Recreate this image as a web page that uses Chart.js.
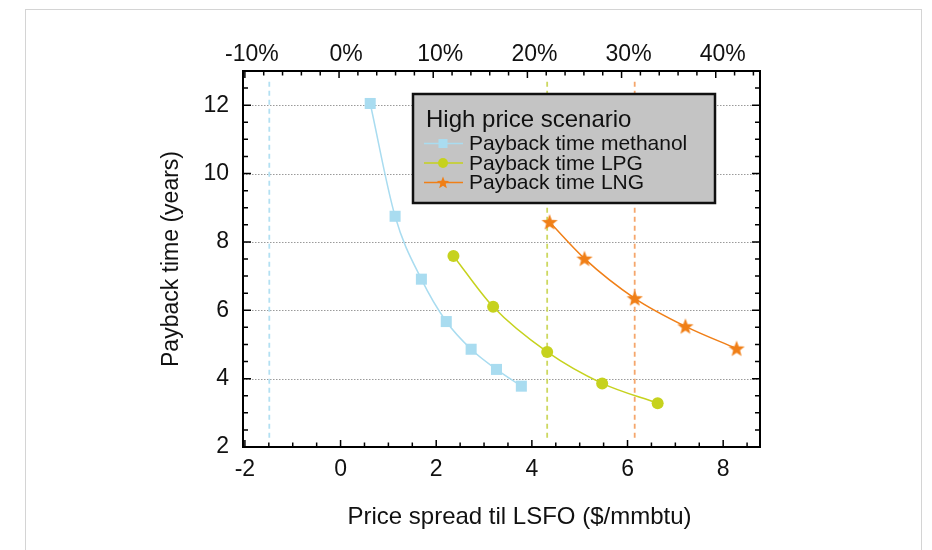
<!DOCTYPE html>
<html>
<head>
<meta charset="utf-8">
<script src="https://cdn.jsdelivr.net/npm/chart.js@4/dist/chart.umd.min.js"></script>
<style>
  body { margin: 0; background: #fff; }
  #wrap { position: relative; width: 932px; height: 550px; overflow: hidden; }
  #frame { position: absolute; left: 25px; top: 9px; width: 897px; height: 600px; border: 1.5px solid #d4d4d4; box-sizing: border-box; }
  canvas { position: absolute; left: 0; top: 0; }
</style>
</head>
<body>
<div id="wrap">
  <div id="frame"></div>
  <canvas id="chart" width="932" height="550"></canvas>
</div>
<script>
// values
const methanolX = [0.62, 1.14, 1.69, 2.21, 2.73, 3.26, 3.78];
const methanolY = [12.05, 8.75, 6.91, 5.67, 4.86, 4.27, 3.78];
const lpgX = [2.36, 3.19, 4.32, 5.47, 6.63];
const lpgY = [7.59, 6.10, 4.78, 3.86, 3.28];
const lngX = [4.37, 5.10, 6.15, 7.21, 8.28];
const lngY = [8.58, 7.51, 6.35, 5.53, 4.88];

// break-even lines (x) and their vertical extent (y)
const breakEvenX = [-1.49, 4.32, 6.15];
const breakEvenSpan = [2.27, 12.8];

const xTicks = [-2, 0, 2, 4, 6, 8];
const pctTicks = [-10, 0, 10, 20, 30, 40];
const yTicks = [2, 4, 6, 8, 10, 12];
const gridY = [4, 6, 8, 10, 12];

const seriesNames = ["Payback time methanol", "Payback time LPG", "Payback time LNG"];
const legendTitle = "High price scenario";
const xTitle = "Price spread til LSFO ($/mmbtu)";

const colMeth = "#a9dcf0";
const colLpg = "#c6d21e";
const colLng = "#f07f17";
const dashCols = ["#b3e0f2", "#cdd860", "#f5a66c"];

const FONT = '"Liberation Sans", Arial, Helvetica, sans-serif';

function starPath(ctx, cx, cy, R, r) {
  ctx.beginPath();
  for (let i = 0; i < 10; i++) {
    const rad = i % 2 === 0 ? R : r;
    const a = -Math.PI / 2 + i * Math.PI / 5;
    const px = cx + rad * Math.cos(a), py = cy + rad * Math.sin(a);
    if (i === 0) ctx.moveTo(px, py); else ctx.lineTo(px, py);
  }
  ctx.closePath();
}

const starImg = document.createElement("canvas");
starImg.width = 20; starImg.height = 20;
(function () {
  const c = starImg.getContext("2d");
  starPath(c, 10, 10.6, 8.5, 3.6);
  c.fillStyle = colLng;
  c.fill();
})();

const zip = (xs, ys) => xs.map((x, i) => ({ x: x, y: ys[i] }));

const curve = (label, xs, ys, color, style, radius) => ({
  label: label,
  data: zip(xs, ys),
  borderColor: color,
  backgroundColor: color,
  borderWidth: 1.5,
  pointStyle: style,
  pointRadius: radius,
  pointHoverRadius: radius,
  pointBorderWidth: 0,
  cubicInterpolationMode: "monotone",
  xAxisID: "x",
  yAxisID: "y",
  order: 0
});

const vline = (x, color) => ({
  data: [{ x: x, y: breakEvenSpan[0] }, { x: x, y: breakEvenSpan[1] }],
  borderColor: color,
  borderWidth: 1.8,
  borderDash: [5, 4],
  pointRadius: 0,
  xAxisID: "x",
  yAxisID: "y",
  order: 1
});

const decor = {
  id: "decor",
  beforeDatasetsDraw(chart) {
    const { ctx, chartArea: ca, scales } = chart;
    ctx.save();
    ctx.strokeStyle = "#9a9a9a";
    ctx.lineWidth = 1;
    ctx.setLineDash([1.5, 1.5]);
    gridY.forEach(v => {
      const py = Math.round(scales.y.getPixelForValue(v)) + 0.5;
      ctx.beginPath();
      ctx.moveTo(ca.left, py);
      ctx.lineTo(ca.right, py);
      ctx.stroke();
    });
    ctx.restore();
  },
  afterDatasetsDraw(chart) {
    const { ctx, chartArea: ca, scales } = chart;
    ctx.save();
    ctx.strokeStyle = "#000";
    ctx.lineWidth = 1.5;
    // left / right ticks
    for (let v = 2.5; v < 13; v += 0.5) {
      const py = scales.y.getPixelForValue(v);
      const len = v % 2 === 0 ? 8 : 5;
      ctx.beginPath();
      ctx.moveTo(ca.left, py); ctx.lineTo(ca.left + len, py);
      ctx.moveTo(ca.right, py); ctx.lineTo(ca.right - len, py);
      ctx.stroke();
    }
    // bottom ticks
    for (let v = -2; v <= 8.5; v += 0.5) {
      const px = scales.x.getPixelForValue(v);
      const len = v % 2 === 0 ? 7 : 4.5;
      ctx.beginPath();
      ctx.moveTo(px, ca.bottom); ctx.lineTo(px, ca.bottom - len);
      ctx.stroke();
    }
    // top ticks
    for (let v = -10; v <= 44; v += 2) {
      const px = scales.x2.getPixelForValue(v);
      const len = v % 10 === 0 ? 7 : 4.5;
      ctx.beginPath();
      ctx.moveTo(px, ca.top); ctx.lineTo(px, ca.top + len);
      ctx.stroke();
    }
    ctx.lineWidth = 2;
    ctx.strokeRect(ca.left, ca.top, ca.right - ca.left, ca.bottom - ca.top);

    // bottom axis title, sits right of centre in the original
    ctx.fillStyle = "#111";
    ctx.textAlign = "center";
    ctx.textBaseline = "middle";
    ctx.font = "24px " + FONT;
    ctx.fillText(xTitle, (ca.left + ca.right) / 2 + 18, ca.bottom + 70);

    // legend box
    const bx = ca.left + 170, by = ca.top + 23, bw = 302, bh = 109;
    ctx.fillStyle = "#c4c4c4";
    ctx.fillRect(bx, by, bw, bh);
    ctx.lineWidth = 2.5;
    ctx.strokeStyle = "#111";
    ctx.strokeRect(bx, by, bw, bh);

    ctx.fillStyle = "#111";
    ctx.textAlign = "left";
    ctx.font = "24px " + FONT;
    ctx.fillText(legendTitle, bx + 13, by + 26);

    const cols = [colMeth, colLpg, colLng];
    const rowY = [49.5, 69, 88.5];
    ctx.font = "21px " + FONT;
    seriesNames.forEach((name, i) => {
      const yy = by + rowY[i];
      ctx.strokeStyle = cols[i];
      ctx.lineWidth = 1.5;
      ctx.beginPath();
      ctx.moveTo(bx + 11, yy); ctx.lineTo(bx + 50, yy);
      ctx.stroke();
      ctx.fillStyle = cols[i];
      const mx = bx + 30;
      if (i === 0) ctx.fillRect(mx - 4.5, yy - 4.5, 9, 9);
      else if (i === 1) { ctx.beginPath(); ctx.arc(mx, yy, 5, 0, Math.PI * 2); ctx.fill(); }
      else { starPath(ctx, mx, yy + 0.5, 6.5, 2.8); ctx.fill(); }
      ctx.fillStyle = "#111";
      ctx.fillText(name, bx + 56, yy + 1);
    });
    ctx.restore();
  }
};

new Chart(document.getElementById("chart"), {
  type: "line",
  data: {
    datasets: [
      curve(seriesNames[0], methanolX, methanolY, colMeth, "rect", 7.8),
      curve(seriesNames[1], lpgX, lpgY, colLpg, "circle", 6),
      curve(seriesNames[2], lngX, lngY, colLng, starImg, 8),
      vline(breakEvenX[0], dashCols[0]),
      vline(breakEvenX[1], dashCols[1]),
      vline(breakEvenX[2], dashCols[2])
    ]
  },
  options: {
    responsive: false,
    animation: false,
    events: [],
    layout: { padding: { left: 158, right: 172, top: 10, bottom: 19 } },
    plugins: { legend: { display: false }, tooltip: { enabled: false } },
    scales: {
      x: {
        type: "linear",
        position: "bottom",
        min: -2.04,
        max: 8.77,
        afterBuildTicks: s => { s.ticks = xTicks.map(v => ({ value: v })); },
        afterFit: s => { s.height = 84; },
        grid: { display: false, drawTicks: false },
        border: { display: false },
        ticks: { autoSkip: false, maxRotation: 0, padding: 9, color: "#111", font: { family: FONT, size: 23 } }
      },
      x2: {
        type: "linear",
        position: "top",
        min: -10.2,
        max: 44.7,
        afterBuildTicks: s => { s.ticks = pctTicks.map(v => ({ value: v })); },
        afterFit: s => { s.height = 61; },
        grid: { display: false, drawTicks: false },
        border: { display: false },
        ticks: { autoSkip: false, maxRotation: 0, padding: 3, labelOffset: 7, color: "#111", font: { family: FONT, size: 23 }, callback: v => v + "%" }
      },
      y: {
        type: "linear",
        position: "left",
        min: 2,
        max: 13,
        afterBuildTicks: s => { s.ticks = yTicks.map(v => ({ value: v })); },
        afterFit: s => { s.width = 85; },
        grid: { display: false, drawTicks: false },
        border: { display: false },
        ticks: { autoSkip: false, padding: 14, color: "#111", font: { family: FONT, size: 23 } },
        title: { display: true, text: "Payback time (years)", color: "#111", padding: 0, font: { family: FONT, size: 23 } }
      }
    }
  },
  plugins: [decor]
});
</script>
</body>
</html>
